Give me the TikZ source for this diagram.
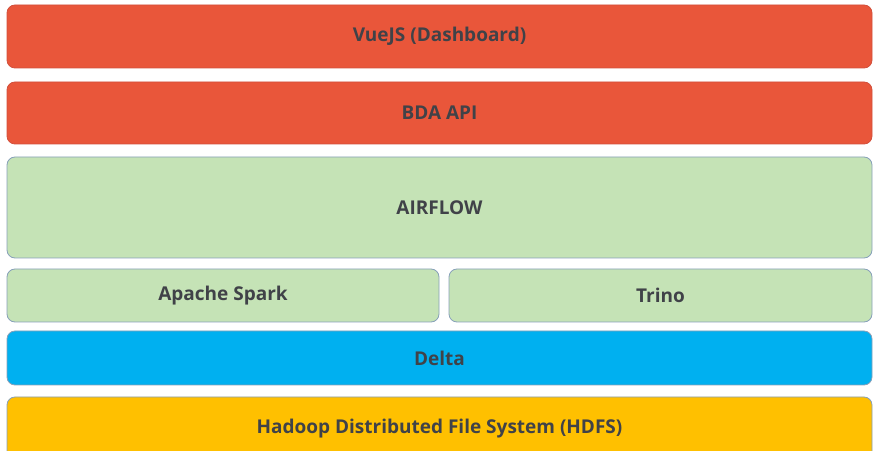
\documentclass[tikz,border=0pt]{standalone}
\usepackage{fontspec}
\setmainfont{Open Sans}
\usepackage{tikz}
\usetikzlibrary{positioning}
\definecolor{bdared}{RGB}{233,86,58}
\definecolor{bdaredline}{RGB}{210,80,60}
\definecolor{bdagreen}{RGB}{197,227,182}
\definecolor{bdablue}{RGB}{0,176,240}
\definecolor{bdayellow}{RGB}{255,192,0}
\definecolor{bdaedge}{RGB}{135,160,185}
\definecolor{bdatext}{RGB}{64,66,72}
\tikzstyle{layer} = [rectangle, rounded corners=8pt, text centered, draw=bdaedge, line width=0.8pt, font=\bfseries\fontsize{19}{22}\selectfont, text=bdatext, inner sep=0pt, outer sep=0pt]
\tikzstyle{redlayer} = [layer, fill=bdared, draw=bdaredline]

\begin{document}
\begin{tikzpicture}
\useasboundingbox (0,0) rectangle (873pt,450pt);
% Layer boxes
\node (vue) [redlayer, minimum width=865pt, minimum height=63pt] at (439.5pt,413.5pt) {VueJS (Dashboard)};

\node (api) [redlayer, below=14pt of vue, minimum width=865pt, minimum height=62pt] {BDA API};

\node (airflow) [layer, fill=bdagreen, below=13pt of api, minimum width=865pt, minimum height=101pt] {AIRFLOW};

\node (spark) [layer, fill=bdagreen, below right=11pt and 0pt of airflow.south west, minimum width=432pt, minimum height=53pt] {Apache Spark};

\node (trino) [layer, fill=bdagreen, right=10pt of spark, minimum width=423pt, minimum height=53pt] {Trino};

\node (delta) [layer, fill=bdablue, below right=9pt and 0pt of spark.south west, minimum width=865pt, minimum height=54pt] {Delta};

\node (hdfs) [layer, fill=bdayellow, below=12pt of delta, minimum width=865pt, minimum height=63pt] {Hadoop Distributed File System (HDFS)};
\end{tikzpicture}
\end{document}
